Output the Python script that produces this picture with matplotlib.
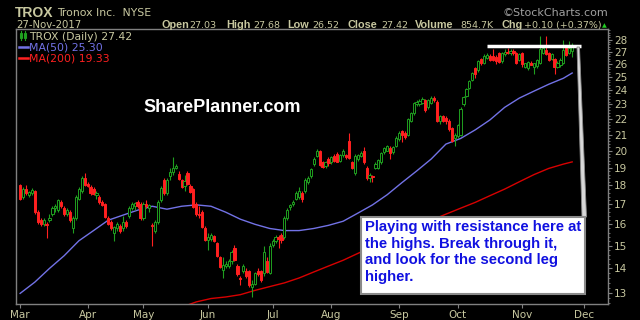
import numpy as np
import pandas as pd
import matplotlib
matplotlib.use("Agg")
import matplotlib.pyplot as plt
from matplotlib.patches import Rectangle, Polygon
from matplotlib.lines import Line2D
from matplotlib.ticker import FixedLocator, FixedFormatter, NullFormatter

# NYSE trading calendar for the chart window
holidays = ["2017-04-14", "2017-05-29", "2017-07-04", "2017-09-04",
            "2017-11-23", "2017-12-25"]
days = pd.bdate_range("2017-03-01", "2017-12-29", freq="C", holidays=holidays)

prev_close = 18.05  # close on Feb 28

# daily OHLC, Mar 1 .. Nov 27 2017
opens = [
    18.0, 17.4, 17.8, 17.5, 17.6, 17.7, 16.6, 16.2, 16.0, 15.95, 16.2, 16.5, 16.8, 16.7, 17.1, 16.8, 16.5, 16.6, 15.8, 16.3, 17.3, 17.7, 18.4,
    18.1, 17.9, 17.8, 17.5, 17.4, 17.1, 17.0, 16.3, 16.1, 15.6, 15.8, 15.9, 15.8, 16.1, 16.4, 16.8, 16.9, 17.1, 17.0,
    16.3, 17.0, 16.8, 15.9, 15.7, 16.1, 17.2, 18.3, 17.6, 18.5, 18.75, 19.0, 18.65, 18.3, 17.95, 18.7, 17.95, 17.8, 17.0, 16.5, 16.6, 15.8,
    15.25, 15.3, 15.45, 15.1, 14.5, 13.95, 14.1, 14.1, 14.3, 14.9, 14.1, 13.6, 13.9, 13.9, 13.9, 13.25, 13.35, 13.9, 13.9, 13.8, 14.3, 13.8,
    15.05, 15.2, 15.4, 15.5, 15.4, 16.3, 16.85, 17.0, 17.3, 17.4, 17.6, 17.7, 18.2, 18.5, 19.2, 19.7, 20.0, 19.3, 19.1, 19.5,
    19.3, 19.7, 19.8, 19.4, 19.75, 19.75, 20.6, 19.3, 18.7, 19.5, 19.7, 20.0, 19.0, 18.4, 18.5, 18.95, 18.95, 19.3, 19.9, 20.0, 20.15, 19.9, 20.3,
    20.7, 21.2, 21.1, 21.0, 21.9, 22.4, 23.0, 23.0, 23.1, 23.3, 22.8, 23.1, 23.45, 23.2, 21.85, 22.2, 22.1, 21.9, 21.4, 20.75,
    20.9, 21.0, 23.0, 23.6, 24.2, 24.8, 25.7, 25.5, 26.4, 26.1, 26.5, 26.6, 26.6, 26.55, 26.85, 26.2, 26.8, 26.9, 26.85, 27.05, 26.9, 26.3,
    26.85, 25.8, 25.65, 26.1, 25.8, 25.85, 26.1, 26.9, 27.1, 26.9, 26.4, 26.4, 25.8, 25.9, 26.1, 27.4, 26.9, 27.03,
]
highs = [
    18.1, 17.9, 18.0, 17.7, 17.85, 17.75, 16.7, 16.3, 16.3, 16.1, 16.5, 16.9, 17.0, 17.3, 17.2, 16.9, 16.8, 16.7, 16.4, 17.5, 17.9, 18.5, 18.7,
    18.2, 18.0, 17.9, 17.7, 17.5, 17.2, 17.05, 16.4, 16.2, 15.9, 16.1, 16.0, 16.4, 16.2, 16.9, 17.1, 17.1, 17.2, 17.1,
    17.1, 17.2, 17.0, 16.05, 16.2, 17.2, 17.95, 18.4, 18.4, 19.0, 19.6, 19.2, 18.8, 18.35, 18.6, 18.8, 18.1, 17.85, 17.1, 16.9, 16.7, 15.9,
    15.6, 15.6, 15.5, 15.15, 14.55, 14.5, 14.3, 14.4, 14.8, 15.05, 14.2, 13.7, 14.2, 14.0, 13.95, 13.5, 13.85, 14.0, 13.95, 15.0, 14.5, 15.1,
    15.3, 15.5, 15.5, 15.6, 16.4, 16.8, 17.0, 17.2, 17.7, 17.9, 17.7, 18.4, 18.5, 19.0, 19.6, 20.1, 20.05, 19.4, 19.4, 19.6,
    19.7, 19.8, 19.9, 19.8, 20.1, 19.8, 21.1, 19.4, 19.8, 19.8, 19.95, 20.2, 19.1, 18.7, 18.6, 19.3, 19.5, 19.9, 20.2, 20.35, 20.3, 20.3, 20.9,
    21.2, 21.3, 21.2, 22.1, 22.5, 23.2, 23.3, 23.4, 23.5, 23.4, 23.4, 23.6, 23.6, 23.3, 22.3, 22.3, 22.2, 22.0, 21.5, 21.1,
    21.7, 22.8, 23.6, 24.2, 24.8, 25.4, 25.8, 26.3, 26.5, 26.8, 26.9, 26.8, 27.2, 26.7, 27.0, 27.0, 27.2, 27.3, 27.2, 27.2, 27.0, 26.9,
    27.0, 26.1, 26.2, 26.2, 26.1, 26.4, 28.3, 27.4, 28.3, 27.0, 26.9, 26.5, 26.2, 26.5, 27.95, 27.5, 27.9, 27.68,
]
lows = [
    17.2, 17.3, 17.5, 17.4, 17.5, 16.5, 16.0, 15.9, 15.9, 15.35, 16.1, 16.4, 16.6, 16.6, 16.8, 16.4, 16.4, 16.1, 15.6, 16.2, 17.2, 17.6, 17.95,
    17.9, 17.5, 17.5, 17.3, 17.0, 16.9, 16.3, 15.95, 15.75, 15.2, 15.7, 15.6, 15.7, 15.8, 16.3, 16.7, 16.7, 16.8, 16.2,
    16.2, 16.8, 16.6, 15.0, 15.6, 16.0, 17.1, 17.5, 17.5, 18.3, 18.6, 18.9, 18.3, 17.85, 17.7, 18.0, 17.6, 16.8, 16.4, 16.3, 15.8, 15.2,
    14.8, 15.2, 15.15, 14.5, 14.0, 13.6, 14.0, 14.0, 14.2, 14.3, 13.7, 13.3, 13.8, 13.6, 13.25, 12.85, 13.3, 13.7, 13.45, 13.7, 13.8, 13.75,
    14.95, 15.1, 14.9, 15.1, 15.3, 16.2, 16.7, 16.9, 17.2, 17.3, 17.1, 17.6, 18.1, 18.4, 19.1, 19.6, 19.1, 19.0, 19.0, 19.1,
    19.2, 19.3, 19.3, 19.3, 19.6, 19.5, 19.5, 18.9, 18.6, 19.4, 19.6, 19.2, 18.3, 18.2, 18.2, 18.9, 18.9, 19.2, 19.8, 19.95, 19.5, 19.8, 20.2,
    20.6, 20.5, 20.7, 20.9, 21.8, 22.3, 22.9, 22.9, 23.0, 22.5, 22.7, 23.0, 23.2, 21.8, 21.7, 21.8, 21.7, 21.2, 20.5, 20.3,
    20.8, 20.9, 22.9, 23.5, 24.1, 24.7, 24.9, 25.4, 25.9, 26.0, 26.4, 26.2, 26.2, 26.0, 26.1, 26.1, 26.6, 26.8, 26.7, 26.7, 26.0, 26.2,
    25.8, 25.7, 25.5, 25.9, 25.2, 25.7, 26.0, 26.8, 26.7, 26.2, 26.3, 25.2, 25.7, 25.8, 26.0, 26.6, 26.8, 26.52,
]
closes = [
    17.3, 17.8, 17.6, 17.65, 17.75, 16.6, 16.1, 16.0, 16.2, 16.0, 16.3, 16.8, 16.9, 17.2, 16.9, 16.5, 16.7, 16.2, 16.3, 17.4, 17.8, 18.4, 18.0,
    17.95, 17.6, 17.55, 17.6, 17.1, 16.95, 16.35, 16.0, 15.8, 15.85, 16.0, 15.7, 16.1, 15.9, 16.8, 17.0, 17.05, 16.9, 16.3,
    17.0, 16.9, 16.95, 15.95, 16.1, 17.1, 17.85, 17.6, 18.3, 18.75, 19.0, 19.1, 18.35, 17.9, 18.25, 18.1, 17.65, 16.85, 16.5, 16.45, 15.85, 15.25,
    15.4, 15.5, 15.2, 14.55, 14.05, 14.15, 14.2, 14.3, 14.7, 14.35, 13.75, 13.55, 14.1, 13.7, 13.3, 13.35, 13.8, 13.75, 13.5, 14.7, 13.85, 15.0,
    15.2, 15.4, 15.3, 15.25, 16.3, 16.7, 16.95, 17.1, 17.6, 17.7, 17.3, 18.3, 18.4, 18.9, 19.5, 20.0, 19.15, 19.05, 19.3, 19.25,
    19.6, 19.4, 19.35, 19.75, 20.0, 19.6, 19.55, 19.0, 19.7, 19.75, 19.85, 19.3, 18.4, 18.6, 18.45, 19.2, 19.45, 19.85, 20.15, 20.3, 19.85, 20.2, 20.8,
    21.1, 20.95, 20.85, 22.0, 22.4, 23.1, 23.15, 23.25, 23.35, 22.6, 23.3, 23.45, 23.3, 21.9, 22.2, 21.9, 21.85, 21.35, 20.6, 21.0,
    21.6, 22.7, 23.5, 24.1, 24.7, 25.3, 25.2, 26.2, 26.05, 26.6, 26.7, 26.35, 26.3, 26.2, 26.15, 26.9, 27.0, 26.95, 27.05, 26.85, 26.1, 26.8,
    26.0, 26.05, 26.15, 25.95, 26.05, 26.35, 27.2, 27.25, 26.8, 26.3, 26.8, 25.8, 26.1, 26.35, 27.1, 26.75, 27.32, 27.42,
]

# moving averages, sampled every 5 sessions (session index, value)
ma50_days = [0, 5, 10, 15, 20, 25, 30, 35, 40, 45, 50, 55, 60, 65, 70, 75, 80, 85, 90,
             95, 100, 105, 110, 115, 120, 125, 130, 135, 140, 145, 150, 155, 160, 165,
             170, 175, 180, 185, 188]
ma50 = [12.98, 13.43, 14.0, 14.55, 15.22, 15.7, 16.2, 16.45, 16.7, 16.9, 16.75, 16.9,
        16.97, 16.9, 16.6, 16.25, 16.0, 15.8, 15.7, 15.7, 15.8, 15.95, 16.15, 16.55,
        16.97, 17.5, 18.15, 18.8, 19.5, 20.4, 20.75, 21.3, 21.95, 22.8, 23.45, 23.95,
        24.45, 24.9, 25.3]
ma200_days = [55, 60, 65, 70, 75, 80, 85, 90, 95, 100, 105, 110, 115, 120, 125, 130,
              135, 140, 145, 150, 155, 160, 165, 170, 175, 180, 185, 188]
ma200 = [12.45, 12.65, 12.78, 12.84, 12.93, 13.1, 13.25, 13.4, 13.6, 13.85, 14.1, 14.35,
         14.65, 14.95, 15.25, 15.55, 15.85, 16.2, 16.5, 16.8, 17.1, 17.45, 17.8, 18.2,
         18.6, 18.95, 19.2, 19.33]

resist_level = 27.45
resist_from, resist_to = 159, 191

y_ticks = list(range(13, 29))
months = ["Mar", "Apr", "May", "Jun", "Jul", "Aug", "Sep", "Oct", "Nov", "Dec"]

note = ("Playing with resistance here at\nthe highs. Break through it,\n"
        "and look for the second leg\nhigher.")

BG = "black"
TXT = "#c8c8a0"
GREEN = "#1f9f1f"
RED = "#ff2020"
BLUE_MA = "#7272e6"
RED_MA = "#d80000"
FRAME = "#808080"

W, H = 640, 320


def fx(px):
    return px / W


def fy(py):
    return 1 - py / H


fig = plt.figure(figsize=(6.4, 3.2), dpi=100, facecolor=BG)
ax = fig.add_axes([fx(16), fy(304), (608 - 16) / W, (304 - 28.5) / H], facecolor=BG)

# candles: colour vs previous close, hollow when close > open
o, h, l, c = (np.array(v) for v in (opens, highs, lows, closes))
x = np.arange(len(c))
prev = np.r_[prev_close, c[:-1]]
col = np.where(c >= prev, GREEN, RED)
face = np.where(c > o, BG, col)
ax.vlines(x, l, h, colors=col, lw=0.8, zorder=3)
body = np.maximum(np.abs(c - o), 0.05)
ax.bar(x, body, bottom=np.minimum(o, c), width=0.75, color=face,
       edgecolor=col, linewidth=0.7, zorder=4)

ax.plot(ma50_days, ma50, color=BLUE_MA, lw=1.0, zorder=2)
ax.plot(ma200_days, ma200, color=RED_MA, lw=1.0, zorder=2)
ax.hlines(resist_level, resist_from, resist_to, colors="white", lw=2.5, zorder=5)

ax.set_yscale("log")
ax.set_ylim(12.57, 28.95)
ax.set_xlim(-1.4, 200.2)
ax.yaxis.tick_right()
ax.yaxis.set_major_locator(FixedLocator(y_ticks))
ax.yaxis.set_major_formatter(FixedFormatter([str(t) for t in y_ticks]))
ax.yaxis.set_minor_locator(FixedLocator(np.arange(12.6, 29.0, 0.2)))
ax.yaxis.set_minor_formatter(NullFormatter())

month_pos = [int(np.argmax(days.month == m)) for m in range(3, 13)]
ax.set_xticks(month_pos)
ax.set_xticklabels(months)
ax.tick_params(axis="both", which="major", colors=FRAME, labelcolor=TXT,
               labelsize=7.5, length=3, width=0.8, pad=1.5)
ax.tick_params(axis="y", which="minor", colors=FRAME, length=1.5, width=0.6)
for s in ax.spines.values():
    s.set_color(FRAME)
    s.set_linewidth(1.0)

# header
fig.text(fx(15), fy(17), "TROX", color=TXT, fontsize=10, fontweight="bold",
         family="Liberation Sans")
fig.text(fx(57), fy(16.5), "Tronox Inc.  NYSE", color=TXT, fontsize=7.8,
         family="DejaVu Sans")
fig.text(fx(16), fy(28), "27-Nov-2017", color=TXT, fontsize=7.3, family="DejaVu Sans")
fig.text(fx(608), fy(16), "\u00a9StockCharts.com", color="#a0a0a0", fontsize=8,
         ha="right", family="DejaVu Sans")
hdr = [("Open", 162, True), ("27.03", 189.5, False), ("High", 226, True),
       ("27.68", 253, False), ("Low", 287, True), ("26.52", 312.5, False),
       ("Close", 347, True), ("27.42", 381.5, False), ("Volume", 415, True),
       ("854.7K", 460, False), ("Chg", 501, True), ("+0.10 (+0.37%)", 524, False)]
for s, px, b in hdr:
    fig.text(fx(px), fy(28), s, color=TXT, fontsize=7.8 if b else 6.8,
             fontweight="bold" if b else "normal",
             family="Liberation Sans" if b else "DejaVu Sans")
fig.text(fx(601.5), fy(27.5), "\u25b2", color="#22cc22", fontsize=4.5, family="DejaVu Sans")

# legend
for px in (20, 24):
    fig.add_artist(Line2D([fx(px + 1), fx(px + 1)], [fy(31), fy(40)], color=GREEN, lw=0.8))
    fig.add_artist(Rectangle((fx(px), fy(38)), 2 / W, 5 / H, transform=fig.transFigure,
                             facecolor=BG, edgecolor=GREEN, lw=0.8))
fig.text(fx(29), fy(40.5), "TROX (Daily) 27.42", color=TXT, fontsize=7.8, family="DejaVu Sans")
fig.add_artist(Line2D([fx(19), fx(28)], [fy(47), fy(47)], color=BLUE_MA, lw=1.8))
fig.text(fx(29), fy(51), "MA(50) 25.30", color=BLUE_MA, fontsize=7.8, family="DejaVu Sans")
fig.add_artist(Line2D([fx(19), fx(28)], [fy(57.5), fy(57.5)], color="#ff2020", lw=1.8))
fig.text(fx(29), fy(61.5), "MA(200) 19.33", color="#ff2020", fontsize=7.8, family="DejaVu Sans")

fig.text(fx(222), fy(107), "SharePlanner.com", color="white", fontsize=13,
         fontweight="bold", family="Liberation Sans", ha="center", va="center")

# callout tail from the resistance line down to the note box
fig.add_artist(Polygon([[fx(577), fy(47)], [fx(579.5), fy(47)], [fx(586.5), fy(217)],
                        [fx(582), fy(217)]], closed=True, transform=fig.transFigure,
                       facecolor="#d8d8d8", edgecolor="#8a8a8a", lw=0.6, zorder=5))
fig.add_artist(Rectangle((fx(361), fy(294)), (585 - 361) / W, (294 - 217) / H,
                         transform=fig.transFigure, facecolor="white",
                         edgecolor="#8a8a8a", lw=1.5, zorder=6))
fig.text(fx(365), fy(220), note, color="#1010e0", fontsize=10.7, fontweight="bold",
         family="Liberation Sans", linespacing=1.24, ha="left", va="top", zorder=7)

fig.savefig("out.png", dpi=100, facecolor=BG)
